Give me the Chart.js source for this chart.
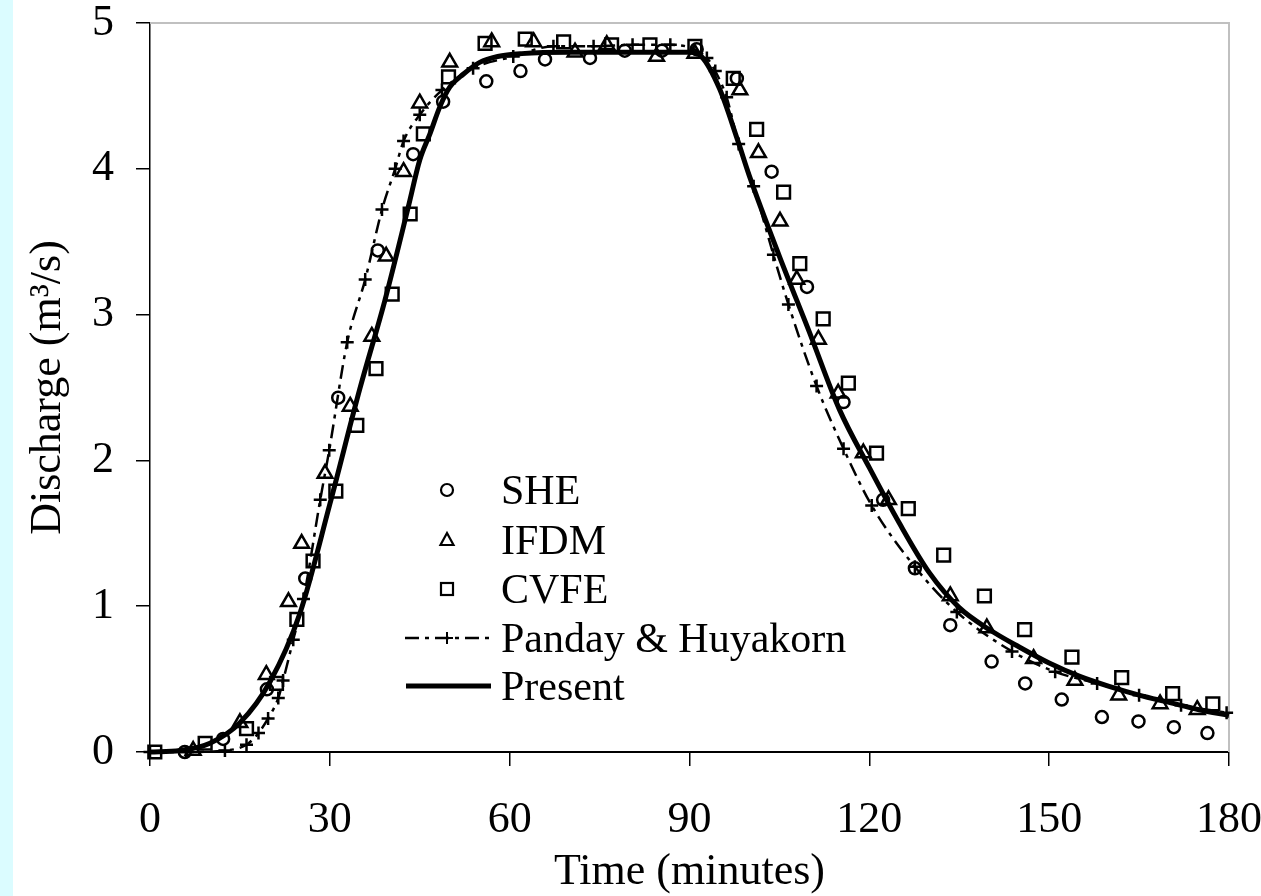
<!DOCTYPE html>
<html><head><meta charset="utf-8">
<style>html,body{margin:0;padding:0;background:#fff;}canvas{display:block;}</style>
<script src="https://cdn.jsdelivr.net/npm/chart.js@4.4.1/dist/chart.umd.min.js"></script>
</head><body>
<canvas id="c" width="1261" height="896"></canvas>
<script>
// ---- tick labels ----
const xTicks = [0, 30, 60, 90, 120, 150, 180];
const yTicks = [0, 1, 2, 3, 4, 5];
const xTitle = 'Time (minutes)';
const yTitle = 'Discharge (m\u00B3/s)';
const seriesNames = ['SHE', 'IFDM', 'CVFE', 'Panday & Huyakorn', 'Present'];

// ---- SHE (circles) ----
const sheTime = [5.8, 12.2, 19.5, 25.9, 31.4, 38.0, 43.9, 48.9, 56.1, 61.8, 65.9, 73.4, 79.2, 85.4, 91.2, 97.9, 103.7, 109.6, 115.7, 122.3, 127.6, 133.5, 140.4, 146.0, 152.1, 158.8, 164.9, 170.8, 176.4];
const sheQ    = [0.00, 0.09, 0.43, 1.19, 2.43, 3.44, 4.10, 4.46, 4.60, 4.67, 4.75, 4.76, 4.81, 4.81, 4.82, 4.62, 3.98, 3.19, 2.40, 1.73, 1.26, 0.87, 0.62, 0.47, 0.36, 0.24, 0.21, 0.17, 0.13];

// ---- IFDM (triangles) ----
const ifdmTime = [7.2, 15.0, 19.4, 23.1, 25.3, 29.2, 33.4, 37.0, 39.4, 42.3, 45.0, 50.0, 57.0, 64.0, 70.9, 76.2, 84.5, 90.9, 98.4, 101.5, 105.1, 107.9, 111.5, 114.8, 119.0, 123.2, 133.5, 139.6, 147.4, 154.3, 161.6, 168.5, 174.7];
const ifdmQ    = [0.01, 0.20, 0.53, 1.03, 1.43, 1.91, 2.37, 2.85, 3.40, 3.98, 4.45, 4.73, 4.87, 4.87, 4.80, 4.85, 4.77, 4.79, 4.54, 4.11, 3.64, 3.24, 2.83, 2.46, 2.05, 1.73, 1.07, 0.85, 0.64, 0.49, 0.39, 0.33, 0.29];

// ---- CVFE (squares) ----
const cvfeTime = [0.8, 9.2, 16.1, 21.1, 24.5, 27.2, 31.0, 34.5, 37.7, 40.4, 43.4, 45.6, 49.8, 55.9, 62.6, 69.0, 77.0, 83.4, 90.9, 97.3, 101.2, 105.7, 108.4, 112.3, 116.5, 121.2, 126.5, 132.4, 139.2, 145.9, 153.8, 162.1, 170.6, 177.3];
const cvfeQ    = [0.00, 0.06, 0.16, 0.47, 0.91, 1.31, 1.79, 2.24, 2.63, 3.14, 3.69, 4.24, 4.63, 4.86, 4.89, 4.87, 4.85, 4.85, 4.84, 4.62, 4.27, 3.84, 3.35, 2.97, 2.53, 2.05, 1.67, 1.35, 1.07, 0.84, 0.65, 0.51, 0.40, 0.33];

// ---- Panday & Huyakorn (dash-dot line with crosses) ----
const phTime = [0, 6.0, 12.5, 16.1, 18.1, 19.7, 21.4, 22.2, 23.9, 25.6, 28.4, 29.9, 32.9, 35.9, 38.7, 40.9, 42.3, 45.0, 48.7, 53.9, 60.6, 67.3, 74.0, 80.5, 86.8, 92.9, 94.3, 96.2, 98.2, 100.7, 104.0, 106.5, 111.2, 115.7, 120.4, 127.6, 134.6, 143.8, 151.0, 158.0, 165.0, 172.0, 179.6];
const phQ    = [0.00, 0.00, 0.01, 0.05, 0.13, 0.23, 0.37, 0.49, 0.77, 1.05, 1.73, 2.07, 2.81, 3.24, 3.72, 4.00, 4.19, 4.37, 4.54, 4.69, 4.77, 4.84, 4.84, 4.85, 4.85, 4.76, 4.67, 4.49, 4.17, 3.88, 3.41, 3.07, 2.51, 2.08, 1.69, 1.27, 0.96, 0.69, 0.55, 0.47, 0.39, 0.32, 0.27];

// ---- Present (thick solid line) ----
const presTime = [0, 5, 10, 15, 20, 25, 30, 35, 39.2, 43.1, 45, 46.7, 48.4, 50, 52.3, 55, 58, 62, 70, 80, 90, 92, 95, 98, 100, 105, 110, 115, 120, 125, 130, 135, 140, 145, 150, 155, 160, 165, 170, 175, 180];
const presQ    = [0, 0.01, 0.06, 0.20, 0.48, 0.95, 1.70, 2.49, 3.10, 3.74, 4.06, 4.24, 4.43, 4.56, 4.65, 4.73, 4.77, 4.79, 4.80, 4.80, 4.80, 4.77, 4.55, 4.20, 3.95, 3.40, 2.88, 2.35, 1.95, 1.57, 1.23, 0.99, 0.84, 0.72, 0.61, 0.52, 0.45, 0.39, 0.34, 0.29, 0.25];

function pts(t, q) { return t.map((x, i) => ({ x: x, y: q[i] })); }
const SERIF = '"Liberation Serif", "Times New Roman", serif';
const PH_DASH = [14, 6, 4, 6];

function zeroPad(s) { s.paddingTop = 0; s.paddingBottom = 0; s.paddingLeft = 0; s.paddingRight = 0; }

const decor = {
  id: 'decor',
  beforeDraw(chart) {
    const ctx = chart.ctx;
    ctx.save();
    ctx.fillStyle = '#ffffff';
    ctx.fillRect(0, 0, chart.width, chart.height);
    ctx.fillStyle = 'rgb(219,252,255)';
    ctx.fillRect(0, 0, 13, chart.height);
    ctx.restore();
  },
  beforeDatasetsDraw(chart) {
    const ctx = chart.ctx, a = chart.chartArea;
    ctx.save();
    ctx.strokeStyle = '#c0c0c0';
    ctx.lineWidth = 2;
    ctx.beginPath();
    ctx.moveTo(a.left, a.top); ctx.lineTo(a.right, a.top); ctx.lineTo(a.right, a.bottom);
    ctx.stroke();
    ctx.restore();
  },
  afterDraw(chart) {
    const ctx = chart.ctx;
    const mx = 447, tx = 501;
    const rows = [490, 540, 589, 638, 686];
    ctx.save();
    ctx.strokeStyle = '#000';
    ctx.fillStyle = '#000';
    ctx.lineWidth = 2.2;
    ctx.beginPath(); ctx.arc(mx, rows[0], 6, 0, Math.PI * 2); ctx.stroke();
    ctx.beginPath();
    ctx.moveTo(mx, rows[1] - 7); ctx.lineTo(mx + 6.5, rows[1] + 5); ctx.lineTo(mx - 6.5, rows[1] + 5); ctx.closePath(); ctx.stroke();
    ctx.strokeRect(mx - 6, rows[2] - 6, 12, 12);
    ctx.lineWidth = 2.5;
    ctx.setLineDash(PH_DASH);
    ctx.beginPath(); ctx.moveTo(405, rows[3]); ctx.lineTo(489, rows[3]); ctx.stroke();
    ctx.setLineDash([]);
    ctx.lineWidth = 2;
    ctx.beginPath();
    ctx.moveTo(mx - 6, rows[3]); ctx.lineTo(mx + 6, rows[3]);
    ctx.moveTo(mx, rows[3] - 6); ctx.lineTo(mx, rows[3] + 6);
    ctx.stroke();
    ctx.lineWidth = 5;
    ctx.beginPath(); ctx.moveTo(406, rows[4]); ctx.lineTo(491, rows[4]); ctx.stroke();
    ctx.font = '42px ' + SERIF;
    ctx.textAlign = 'left';
    ctx.textBaseline = 'alphabetic';
    seriesNames.forEach((n, i) => ctx.fillText(n, tx, rows[i] + 14));
    ctx.restore();
  }
};

new Chart(document.getElementById('c'), {
  type: 'scatter',
  data: {
    datasets: [
      { label: seriesNames[0], data: pts(sheTime, sheQ), pointStyle: 'circle', pointRadius: 6, borderColor: '#000', backgroundColor: 'rgba(0,0,0,0)', borderWidth: 2.5, pointBorderWidth: 2.5, showLine: false, clip: false },
      { label: seriesNames[1], data: pts(ifdmTime, ifdmQ), pointStyle: 'triangle', pointRadius: 8.5, borderColor: '#000', backgroundColor: 'rgba(0,0,0,0)', borderWidth: 2.5, pointBorderWidth: 2.5, showLine: false, clip: false },
      { label: seriesNames[2], data: pts(cvfeTime, cvfeQ), pointStyle: 'rect', pointRadius: 9, borderColor: '#000', backgroundColor: 'rgba(0,0,0,0)', borderWidth: 2.5, pointBorderWidth: 2.5, showLine: false, clip: false },
      { label: seriesNames[3], data: pts(phTime, phQ), pointStyle: 'cross', pointRadius: 6.5, pointBorderWidth: 2.5, borderColor: '#000', backgroundColor: 'rgba(0,0,0,0)', borderWidth: 2.5, borderDash: PH_DASH, showLine: true, cubicInterpolationMode: 'monotone', clip: false },
      { label: seriesNames[4], data: pts(presTime, presQ), pointRadius: 0, borderColor: '#000', borderWidth: 5, showLine: true, cubicInterpolationMode: 'monotone', clip: false }
    ]
  },
  options: {
    responsive: false,
    animation: false,
    devicePixelRatio: 1,
    layout: { autoPadding: false, padding: { left: 0, top: 23, right: 32, bottom: 0 } },
    plugins: { legend: { display: false }, tooltip: { enabled: false } },
    events: [],
    scales: {
      x: {
        type: 'linear', position: 'bottom', min: 0, max: 180, offset: false,
        afterBuildTicks: s => { s.ticks = xTicks.map(v => ({ value: v })); },
        afterFit: s => { s.height = 144; zeroPad(s); },
        grid: { drawOnChartArea: false, drawTicks: true, tickLength: 14, color: '#000', lineWidth: 1.5 },
        border: { display: true, color: '#000', width: 2 },
        ticks: { font: { family: SERIF, size: 44, lineHeight: 1 }, color: '#000', padding: 32, maxRotation: 0, autoSkip: false },
        title: { display: true, text: xTitle, color: '#000', font: { family: SERIF, size: 44, lineHeight: 1 }, padding: { top: 0, bottom: 2 } }
      },
      y: {
        type: 'linear', position: 'left', min: 0, max: 5, offset: false,
        afterBuildTicks: s => { s.ticks = yTicks.map(v => ({ value: v })); },
        afterFit: s => { s.width = 150; zeroPad(s); },
        grid: { drawOnChartArea: false, drawTicks: true, tickLength: 14, color: '#000', lineWidth: 1.5 },
        border: { display: true, color: '#000', width: 1.5 },
        ticks: { font: { family: SERIF, size: 44, lineHeight: 1 }, color: '#000', padding: 22 },
        title: { display: true, text: yTitle, color: '#000', font: { family: SERIF, size: 44, lineHeight: 1 }, padding: { top: 26, bottom: 0 } }
      }
    }
  },
  plugins: [decor]
});
</script>
</body></html>
